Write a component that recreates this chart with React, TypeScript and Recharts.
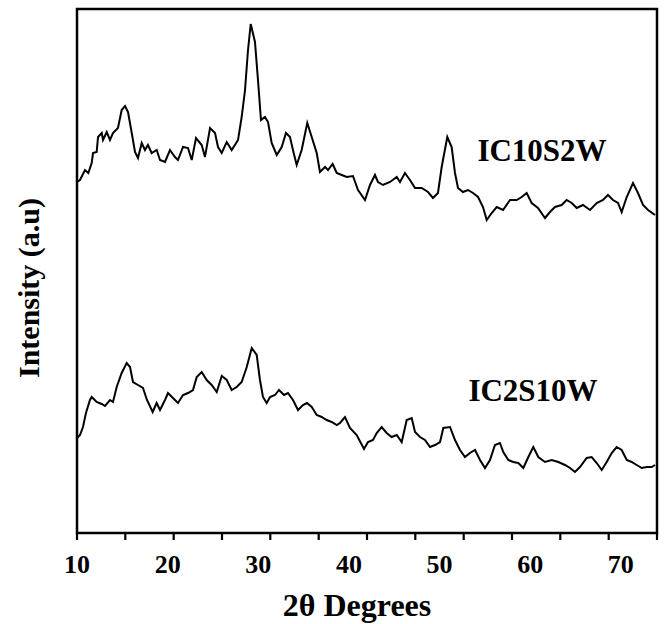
import React from "react";
import { LineChart, Line, XAxis, YAxis, ReferenceArea, ReferenceDot } from "recharts";

// 2-theta (degrees) and intensity (a.u.)
const ic10s2wTheta = [
  10.0, 10.33, 10.88, 11.25, 11.62, 11.77, 12.17, 12.32, 12.73, 12.87, 13.28, 13.64, 13.97, 14.52, 14.93, 15.3,
  15.63, 16.04, 16.4, 16.73, 17.14, 17.5, 17.83, 18.24, 18.79, 19.16, 19.71, 20.26, 20.81, 21.14, 21.7, 22.25,
  22.66, 23.13, 23.76, 24.12, 24.68, 25.23, 25.56, 25.97, 26.52, 27.07, 27.77, 28.17, 28.54, 28.87, 29.17, 29.64,
  29.97, 30.3, 30.74, 31.08, 31.48, 32.04, 32.59, 33.06, 33.5, 33.83, 34.24, 34.79, 35.41, 35.9, 36.45, 36.81,
  37.37, 37.7, 38.21, 38.66, 39.21, 39.76, 40.45, 41.01, 41.78, 42.33, 42.88, 43.21, 43.77, 44.54, 45.28, 45.64,
  46.19, 46.74, 47.3, 48.03, 48.73, 49.28, 49.83, 50.24, 50.86, 51.34, 51.71, 52.04, 52.59, 53.14, 53.7, 54.25,
  54.8, 55.21, 55.76, 56.31, 57.01, 57.78, 58.52, 59.07, 59.62, 60.17, 60.87, 61.64, 62.19, 62.74, 63.48, 64.03,
  64.59, 65.14, 65.83, 66.61, 67.35, 68.04, 68.59, 69.14, 69.7, 70.1, 70.66, 71.35, 71.9, 72.46, 73.01, 73.78,
];
const ic10s2wIntensity = [
  351, 353, 363, 360, 370, 380, 381, 396, 400, 393, 401, 393, 400, 405, 423, 427,
  421, 400, 381, 375, 390, 383, 388, 380, 383, 373, 371, 383, 376, 373, 386, 385,
  373, 395, 388, 376, 405, 400, 386, 380, 391, 383, 393, 416, 443, 483, 509, 491,
  453, 413, 416, 411, 390, 378, 386, 400, 396, 383, 368, 383, 410, 396, 380, 361,
  366, 363, 369, 360, 358, 356, 357, 343, 333, 348, 358, 351, 348, 351, 356, 351,
  360, 353, 345, 345, 341, 335, 340, 366, 396, 386, 360, 345, 341, 343, 340, 336,
  326, 313, 320, 326, 323, 333, 333, 336, 340, 330, 325, 315, 321, 326, 328, 333,
  330, 325, 328, 323, 330, 333, 338, 333, 330, 321, 336, 350, 340, 328, 323, 318,
];

const ic2s10wTheta = [
  10.0, 10.33, 10.66, 10.99, 11.43, 11.62, 12.17, 12.73, 13.09, 13.64, 13.97, 14.38, 14.93, 15.48, 15.85, 16.18,
  16.73, 17.28, 17.72, 18.35, 18.79, 19.16, 19.71, 20.04, 20.59, 21.14, 21.7, 22.25, 22.8, 23.21, 23.76, 24.31,
  24.86, 25.42, 25.97, 26.52, 27.07, 27.62, 28.17, 28.73, 29.28, 29.83, 30.19, 30.52, 30.93, 31.3, 31.85, 32.29,
  32.84, 33.28, 33.83, 34.39, 34.94, 35.38, 35.9, 36.45, 37.0, 37.55, 38.1, 38.66, 39.02, 39.57, 40.12, 40.86,
  41.67, 42.11, 42.66, 43.07, 43.62, 44.17, 44.72, 45.28, 45.83, 46.38, 46.93, 47.3, 47.85, 48.4, 48.95, 49.5,
  50.06, 50.42, 51.16, 51.71, 52.26, 52.81, 53.36, 53.92, 54.47, 55.02, 55.57, 56.12, 56.67, 57.04, 57.59, 58.14,
  58.69, 59.25, 59.8, 60.35, 60.9, 61.64, 62.38, 63.11, 63.85, 64.4, 64.95, 65.5, 66.24, 66.79, 67.35, 67.9,
  68.45, 69.0, 69.55, 70.1, 70.66, 71.21, 71.76, 72.32, 72.87, 73.42, 73.78,
];
const ic2s10wIntensity = [
  95, 98, 106, 120, 133, 136, 131, 129, 127, 133, 131, 146, 160, 170, 166, 151,
  148, 145, 133, 121, 130, 123, 133, 140, 135, 130, 138, 140, 143, 156, 161, 153,
  148, 141, 157, 153, 143, 146, 151, 166, 185, 178, 153, 136, 130, 136, 138, 143,
  138, 140, 133, 123, 128, 130, 126, 118, 116, 113, 111, 108, 110, 116, 105, 98,
  84, 91, 93, 100, 106, 100, 96, 98, 91, 113, 115, 101, 96, 93, 86, 88,
  91, 105, 106, 93, 83, 76, 80, 83, 73, 65, 73, 88, 90, 81, 73, 71,
  70, 65, 76, 86, 76, 71, 73, 71, 68, 65, 61, 66, 75, 76, 70, 63,
  71, 80, 86, 83, 73, 71, 68, 65, 66, 66, 68,
];

const xLabelTicks = [10, 20, 30, 40, 50, 60, 70];
const xMarkTicks = [10, 15.33, 20.67, 26, 31.33, 36.67, 42, 47.33, 52.67, 58, 63.33, 68.67, 74];
const seriesNames = ["IC10S2W", "IC2S10W"];

// one axis carries both: short marks and the number labels
const allTicks = Array.from(new Set([...xMarkTicks, ...xLabelTicks])).sort((a, b) => a - b);

const font = '"Liberation Serif", "Times New Roman", Tinos, "DejaVu Serif", serif';

const toRows = (theta: number[], intensity: number[]) =>
  theta.map((t, i) => ({ theta: t, intensity: intensity[i] }));

const topRows = toRows(ic10s2wTheta, ic10s2wIntensity);
const bottomRows = toRows(ic2s10wTheta, ic2s10wIntensity);

const textStyle = { fontFamily: font, fontWeight: 700 as const };

const AxisTick = (props: any) => {
  const { x, y, payload } = props;
  const v = payload.value;
  return (
    <g>
      {xMarkTicks.includes(v) && <line x1={x} x2={x} y1={y} y2={y + 7} stroke="#000" strokeWidth={2.2} />}
      {xLabelTicks.includes(v) && (
        <text x={x} y={y} dy={40} textAnchor="middle" style={{ ...textStyle, fontSize: 26 }} fill="#000">
          {v}
        </text>
      )}
    </g>
  );
};

const renderYLabel = (props: any) => {
  const vb = props.viewBox;
  const cx = vb.x + 28;
  const cy = vb.y + vb.height / 2 + 17;
  return (
    <text
      x={cx}
      y={cy}
      transform={`rotate(-90 ${cx} ${cy})`}
      textAnchor="middle"
      dominantBaseline="central"
      style={{ ...textStyle, fontSize: 30 }}
      fill="#000"
    >
      Intensity (a.u)
    </text>
  );
};

const renderXLabel = (props: any) => {
  const vb = props.viewBox;
  return (
    <text
      x={vb.x + vb.width / 2 - 10}
      y={vb.y + 83}
      textAnchor="middle"
      style={{ ...textStyle, fontSize: 32 }}
      fill="#000"
    >
      2θ Degrees
    </text>
  );
};

const seriesLabel = (name: string) => (props: any) => {
  const vb = props.viewBox;
  return (
    <text
      x={vb.x}
      y={vb.y}
      textAnchor="middle"
      dominantBaseline="central"
      style={{ ...textStyle, fontSize: 31 }}
      fill="#000"
    >
      {name}
    </text>
  );
};

export default function App() {
  return (
    <div style={{ position: "absolute", left: 0, top: 0 }}>
      <LineChart width={666} height={624} margin={{ top: 9, right: 9, left: 0, bottom: 0 }}>
        <XAxis
          xAxisId="x"
          dataKey="theta"
          type="number"
          domain={[10, 74]}
          allowDataOverflow
          ticks={allTicks}
          interval={0}
          tick={<AxisTick />}
          tickLine={false}
          tickSize={0}
          tickMargin={0}
          axisLine={false}
          height={91}
          label={renderXLabel}
        />
        <YAxis
          yAxisId="left"
          type="number"
          domain={[0, 524]}
          allowDataOverflow
          tick={false}
          tickLine={false}
          axisLine={false}
          width={77}
          label={renderYLabel}
        />
        <ReferenceArea
          xAxisId="x"
          yAxisId="left"
          x1={10}
          x2={74}
          y1={0}
          y2={524}
          fill="none"
          stroke="#000"
          strokeWidth={2.5}
          ifOverflow="visible"
        />
        <Line
          xAxisId="x"
          yAxisId="left"
          data={topRows}
          dataKey="intensity"
          name={seriesNames[0]}
          type="linear"
          stroke="#000"
          strokeWidth={2}
          dot={false}
          isAnimationActive={false}
        />
        <Line
          xAxisId="x"
          yAxisId="left"
          data={bottomRows}
          dataKey="intensity"
          name={seriesNames[1]}
          type="linear"
          stroke="#000"
          strokeWidth={2}
          dot={false}
          isAnimationActive={false}
        />
        <ReferenceDot
          xAxisId="x"
          yAxisId="left"
          x={61.31}
          y={383}
          r={0}
          fill="none"
          stroke="none"
          label={seriesLabel(seriesNames[0])}
        />
        <ReferenceDot
          xAxisId="x"
          yAxisId="left"
          x={60.32}
          y={143}
          r={0}
          fill="none"
          stroke="none"
          label={seriesLabel(seriesNames[1])}
        />
      </LineChart>
    </div>
  );
}
